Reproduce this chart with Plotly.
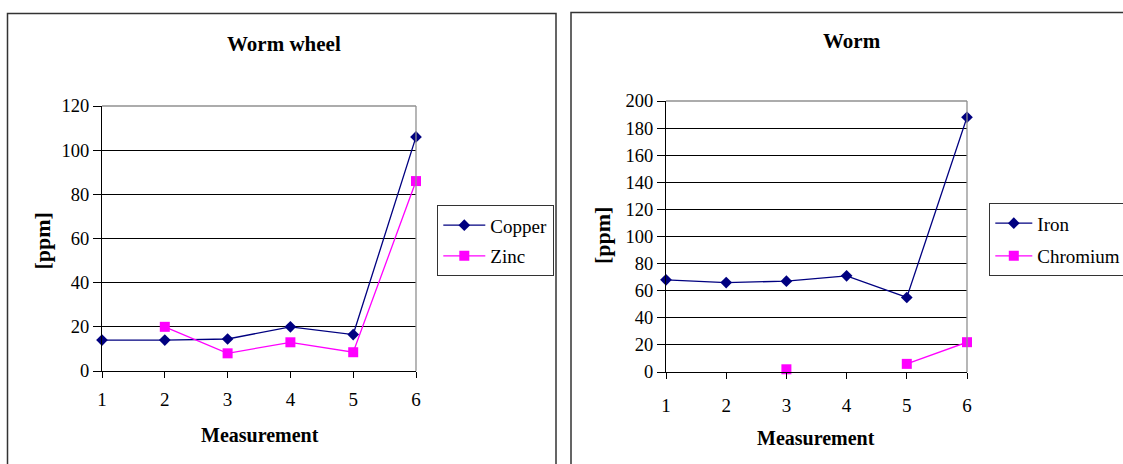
import plotly.graph_objects as go

measurements = [1, 2, 3, 4, 5, 6]
copper = [14, 14, 14.5, 20, 16.5, 106]
zinc = [None, 20, 8, 13, 8.5, 86]
iron = [68, 66, 67, 71, 55, 188]
chromium = [None, None, 2, None, 6, 22]

W, H = 1123, 464
FONT = "Liberation Serif"
NAVY = "#000080"
MAG = "#FF00FF"

def px(x):
    return x / W

def py(y):
    return 1 - y / H

fig = go.Figure()

def add(name, vals, color, symbol, xa, ya, leg, grp):
    fig.add_trace(go.Scatter(
        x=measurements, y=vals, name=name, mode="lines+markers",
        line=dict(color=color, width=1.3),
        marker=dict(symbol=symbol, size=9 if symbol == "diamond" else 10, color=color),
        xaxis=xa, yaxis=ya, legend=leg, legendgroup=grp,
        cliponaxis=False, connectgaps=False))

add("Copper", copper, NAVY, "diamond", "x", "y", "legend", "a")
add("Zinc", zinc, MAG, "square", "x", "y", "legend", "b")
add("Iron", iron, NAVY, "diamond", "x2", "y2", "legend2", "c")
add("Chromium", chromium, MAG, "square", "x2", "y2", "legend2", "d")

def xax(standoff):
    return dict(range=[1, 6], dtick=1, tick0=1, showgrid=False, showline=True, linecolor="black",
                linewidth=1, ticks="outside", ticklen=6, tickcolor="black", zeroline=False,
                tickfont=dict(family=FONT, size=19, color="black"), ticklabelstandoff=standoff,
                automargin=False)

ycommon = dict(showgrid=True, gridcolor="black", gridwidth=1, showline=True, linecolor="black",
               linewidth=1, ticks="outside", ticklen=8, tickcolor="black", zeroline=False,
               tickfont=dict(family=FONT, size=18.5, color="black"), ticklabelstandoff=0,
               automargin=False)

legfont = dict(family=FONT, size=19, color="black")
fig.update_layout(
    width=W, height=H, margin=dict(l=0, r=0, t=0, b=0, autoexpand=False),
    paper_bgcolor="white", plot_bgcolor="white",
    xaxis=dict(domain=[px(102), px(416)], anchor="y", **xax(5)),
    yaxis=dict(domain=[py(371), py(106)], anchor="x", range=[0, 120], dtick=20, **ycommon),
    xaxis2=dict(domain=[px(666), px(967)], anchor="y2", **xax(10)),
    yaxis2=dict(domain=[py(372), py(101)], anchor="x2", range=[0, 200], dtick=20, **ycommon),
    legend=dict(x=px(437), y=py(205), xanchor="left", yanchor="top", bgcolor="white",
                bordercolor="#333333", borderwidth=1.3, font=legfont, tracegroupgap=3,
                itemwidth=42),
    legend2=dict(x=px(989), y=py(203), xanchor="left", yanchor="top", bgcolor="white",
                 bordercolor="#333333", borderwidth=1.3, font=legfont, tracegroupgap=5,
                 itemwidth=37),
    showlegend=True,
)

shapes = [
    dict(type="rect", xref="paper", yref="paper", x0=px(7.5), x1=px(556), y0=py(480), y1=py(13.5),
         line=dict(color="#333333", width=1.5)),
    dict(type="rect", xref="paper", yref="paper", x0=px(571), x1=px(1140), y0=py(480), y1=py(12.5),
         line=dict(color="#333333", width=1.5)),
]
for xr, yr in (("x domain", "y domain"), ("x2 domain", "y2 domain")):
    shapes.append(dict(type="line", xref=xr, yref=yr, x0=0, x1=1, y0=1, y1=1,
                       line=dict(color="#909090", width=1.3), layer="above"))
    shapes.append(dict(type="line", xref=xr, yref=yr, x0=1, x1=1, y0=0, y1=1,
                       line=dict(color="#909090", width=1.3), layer="above"))
fig.update_layout(shapes=shapes)

ann = [
    dict(text="<b>Worm wheel</b>", x=px(283.5), y=py(44), font=dict(size=21)),
    dict(text="<b>Worm</b>", x=px(852), y=py(41), font=dict(size=21)),
    dict(text="<b>Measurement</b>", x=px(260), y=py(435), font=dict(size=20)),
    dict(text="<b>Measurement</b>", x=px(816), y=py(438), font=dict(size=20)),
    dict(text="<b>[ppm]</b>", x=px(41.5), y=py(241), textangle=-90, font=dict(size=22)),
    dict(text="<b>[ppm]</b>", x=px(603), y=py(236), textangle=-90, font=dict(size=22)),
]
for a in ann:
    a.update(xref="paper", yref="paper", showarrow=False, xanchor="center", yanchor="middle")
    a["font"].update(family=FONT, color="black")
fig.update_layout(annotations=ann)

fig.write_html("out.html")
